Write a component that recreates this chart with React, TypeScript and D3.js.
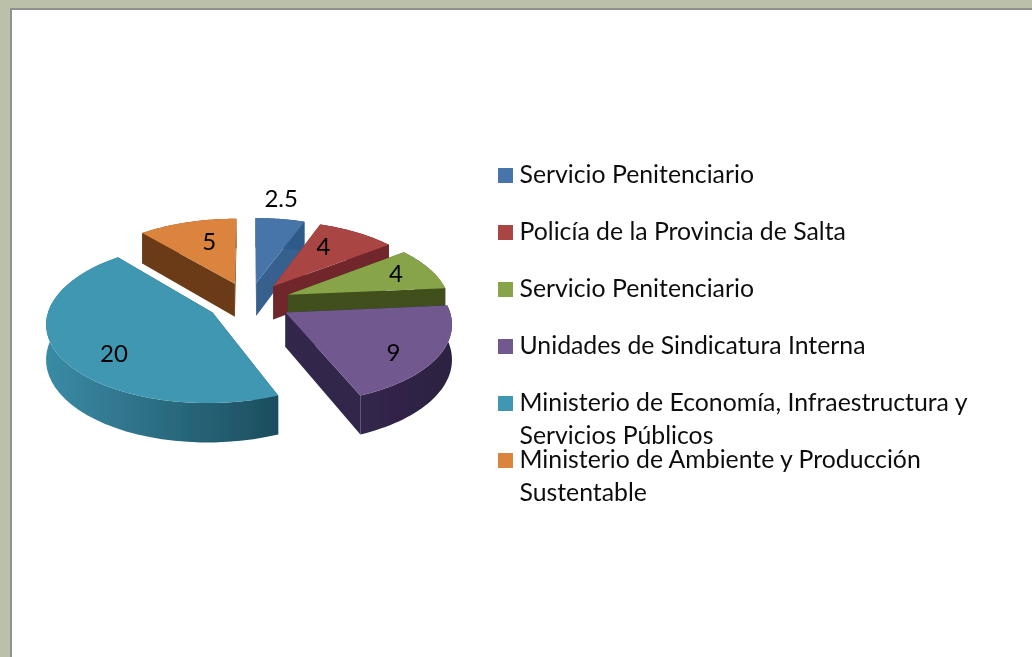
import React from "react";
import * as d3 from "d3";

const categories = [
  "Servicio Penitenciario",
  "Policía de la Provincia de Salta",
  "Servicio Penitenciario",
  "Unidades de Sindicatura Interna",
  "Ministerio de Economía, Infraestructura y Servicios Públicos",
  "Ministerio de Ambiente y Producción Sustentable",
];
const values = [2.5, 4, 4, 9, 20, 5];
const valueLabels = ["2.5", "4", "4", "9", "20", "5"];
const legendLines = [
  ["Servicio Penitenciario"],
  ["Policía de la Provincia de Salta"],
  ["Servicio Penitenciario"],
  ["Unidades de Sindicatura Interna"],
  ["Ministerio de Economía, Infraestructura y", "Servicios Públicos"],
  ["Ministerio de Ambiente y Producción", "Sustentable"],
];
const legendBaselines = [183, 240, 297, 354, 411, 468];
const topColors = ["#4674a9", "#a94542", "#87a44a", "#71588f", "#4097b2", "#db843d"];
const cutColors = ["#38608f", "#6f2529", "#3f4f1f", "#33264c", "#1f5566", "#6a3a14"];
const wallLeft = ["#2f5a8a", "#6f2529", "#3f4f1f", "#33264c", "#3a8ba5", "#6a3a14"];
const wallRight = ["#2f5a8a", "#6f2529", "#3f4f1f", "#2c2040", "#1c4d5e", "#6a3a14"];
const paintOrder = [0, 1, 2, 3, 5, 4];
const labelRadial = [1.38, 0.69, 0.77, 0.76, 0.73, 0.66];
const labelAngleDeg = [8, 30.5, 67, 127, 229, 344];

const cx = 249, cy = 302, R = 162, tilt = 0.475, persp = 0.12, explode = 42, depth = 34;

function project(gx: number, gy: number, z = 0): [number, number] {
  const k = 1 / (1 - (gy / R) * persp);
  return [cx + k * gx, cy + k * (gy * tilt + z * depth)];
}

const arcs = d3.pie<number>().sort(null).startAngle(0).endAngle(2 * Math.PI)(values);
const line = d3.line();

function sliceGeom(i: number) {
  const a = arcs[i];
  const mid = (a.startAngle + a.endAngle) / 2;
  const ox = Math.sin(mid) * explode;
  const oy = -Math.cos(mid) * explode;
  const rim = d3.range(0, 41).map((s) => a.startAngle + ((a.endAngle - a.startAngle) * s) / 40);
  const at = (th: number, r: number, z = 0) =>
    project(ox + Math.sin(th) * r, oy - Math.cos(th) * r, z);
  return { a, mid, rim, at };
}

export default function App() {
  return (
    <svg
      width={1032}
      height={657}
      style={{ position: "fixed", left: 0, top: 0, display: "block" }}
      fontFamily="Lato, Carlito, sans-serif"
    >
      <defs>
        {values.map((_, i) => (
          <linearGradient key={i} id={`wall${i}`} x1="0" x2="1" y1="0" y2="0">
            <stop offset="0" stopColor={wallLeft[i]} />
            <stop offset="1" stopColor={wallRight[i]} />
          </linearGradient>
        ))}
        <filter id="soft" x="-5%" y="-5%" width="110%" height="110%">
          <feGaussianBlur stdDeviation="0.5" />
        </filter>
        <filter id="softText" x="-5%" y="-5%" width="110%" height="110%">
          <feGaussianBlur stdDeviation="0.3" />
        </filter>
      </defs>
      <rect width={1032} height={657} fill="#bbc1a9" />
      <rect x={10} y={8} width={1030} height={660} fill="#8f918c" />
      <rect x={12} y={10} width={1030} height={660} fill="#ffffff" />
      <g filter="url(#soft)">
        {paintOrder.map((i) => {
          const { rim, at, a } = sliceGeom(i);
          const face = (th: number) =>
            line([at(th, 0), at(th, R), at(th, R, 1), at(th, 0, 1)])! + "Z";
          const wall =
            line([...rim.map((t) => at(t, R)), ...rim.slice().reverse().map((t) => at(t, R, 1))])! + "Z";
          const top = line([at(0, 0), ...rim.map((t) => at(t, R))])! + "Z";
          return (
            <g key={categories[i] + i}>
              <path d={face(a.startAngle)} fill={cutColors[i]} />
              <path d={face(a.endAngle)} fill={cutColors[i]} />
              <path d={wall} fill={`url(#wall${i})`} />
              <path d={top} fill={topColors[i]} />
            </g>
          );
        })}
      </g>
      <g filter="url(#softText)">
        {values.map((_, i) => {
          const { at } = sliceGeom(i);
          const [x, y] = at((labelAngleDeg[i] * Math.PI) / 180, R * labelRadial[i]);
          return (
            <text key={i} x={x} y={y} fontSize={24} textAnchor="middle" dominantBaseline="central" fill="#000">
              {valueLabels[i]}
            </text>
          );
        })}
        {legendLines.map((lines, i) => (
          <g key={i}>
            <rect x={498} y={legendBaselines[i] - 15} width={15} height={15} fill={topColors[i]} />
            {lines.map((t, j) => (
              <text key={j} x={519.5} y={legendBaselines[i] + j * 33} fontSize={24.8} fill="#111">
                {t}
              </text>
            ))}
          </g>
        ))}
      </g>
    </svg>
  );
}
